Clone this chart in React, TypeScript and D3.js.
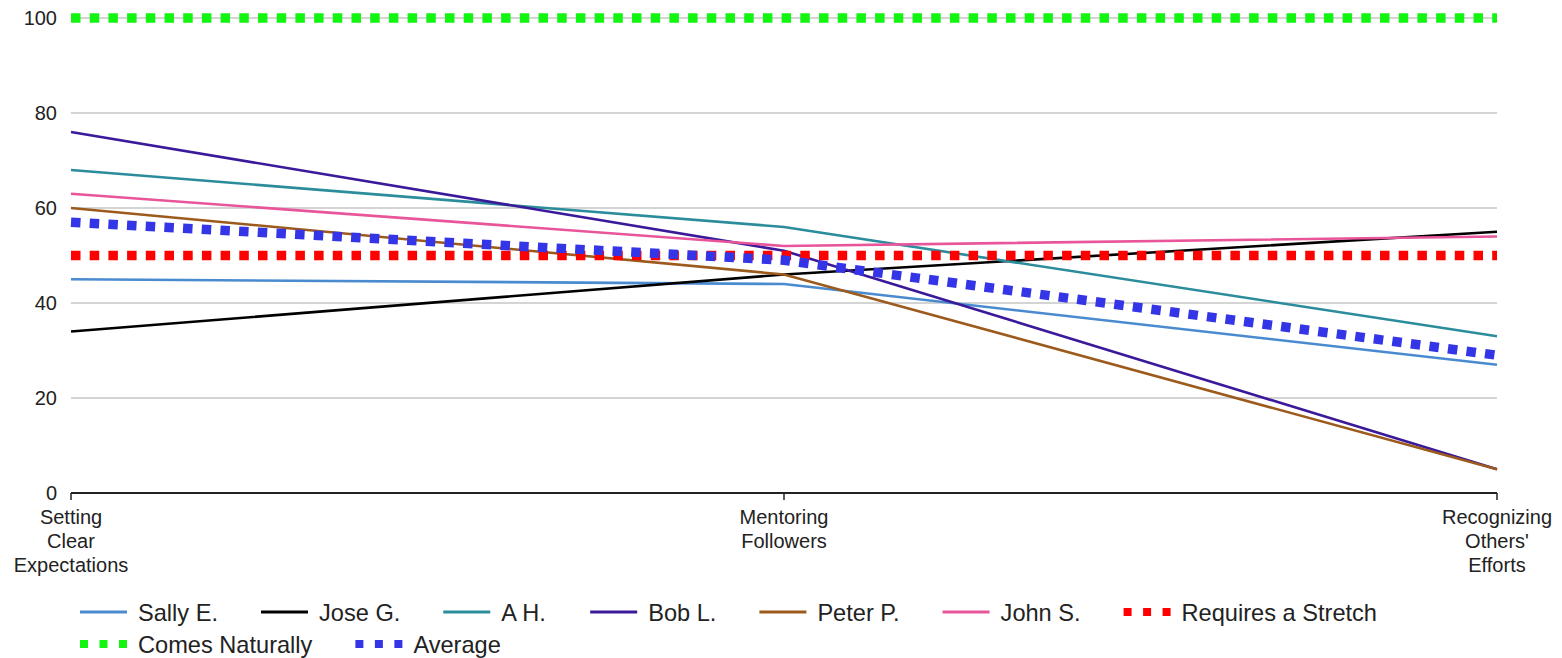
import React from "react";
import * as d3 from "d3";

const categories: string[][] = [
  ["Setting", "Clear", "Expectations"],
  ["Mentoring", "Followers"],
  ["Recognizing", "Others'", "Efforts"],
];
const categoryKeys = ["Setting Clear Expectations", "Mentoring Followers", "Recognizing Others' Efforts"];

const sallyE = [45, 44, 27];
const joseG = [34, 46, 55];
const aH = [68, 56, 33];
const bobL = [76, 51, 5];
const peterP = [60, 46, 5];
const johnS = [63, 52, 54];
const requiresStretch = [50, 50, 50];
const comesNaturally = [100, 100, 100];
const average = [57, 49, 29];

const yTicks = [0, 20, 40, 60, 80, 100];

type Series = { name: string; values: number[]; color: string; dotted: boolean };
const series: Series[] = [
  { name: "Sally E.", values: sallyE, color: "#4a8bd0", dotted: false },
  { name: "Jose G.", values: joseG, color: "#000000", dotted: false },
  { name: "A H.", values: aH, color: "#2b8c9b", dotted: false },
  { name: "Bob L.", values: bobL, color: "#3a1a9a", dotted: false },
  { name: "Peter P.", values: peterP, color: "#9c5a1c", dotted: false },
  { name: "John S.", values: johnS, color: "#e9559a", dotted: false },
  { name: "Requires a Stretch", values: requiresStretch, color: "#ff0000", dotted: true },
  { name: "Comes Naturally", values: comesNaturally, color: "#11f511", dotted: true },
  { name: "Average", values: average, color: "#3535e8", dotted: true },
];

const FONT = "'Liberation Sans', Arial, sans-serif";

function measure(text: string, size: number): number {
  const c = document.createElement("canvas").getContext("2d");
  if (!c) return text.length * size * 0.5;
  c.font = `${size}px ${FONT}`;
  return c.measureText(text).width;
}

export default function App() {
  const W = 1562;
  const H = 658;
  const left = 71;
  const right = 1497;
  const top = 18;
  const bottom = 493;

  const x = d3.scalePoint<string>().domain(categoryKeys).range([left, right]);
  const y = d3.scaleLinear().domain([0, 100]).range([bottom, top]);

  const line = d3
    .line<number>()
    .x((_, i) => x(categoryKeys[i]) as number)
    .y((d) => y(d));

  // legend layout
  const legendSize = 23.6;
  const rows: { s: Series; x: number; row: number }[] = [];
  let lx = 80;
  let row = 0;
  const maxX = 1500;
  for (const s of series) {
    const w = 47 + 11 + measure(s.name, legendSize);
    if (lx + w > maxX) {
      row += 1;
      lx = 80;
    }
    rows.push({ s, x: lx, row });
    lx += w + 43;
  }

  return (
    <svg
      width={W}
      height={H}
      style={{ position: "absolute", left: 0, top: 0, background: "#fff" }}
      fontFamily={FONT}
    >
      {/* gridlines */}
      {yTicks
        .filter((t) => t > 0)
        .map((t) => (
          <line key={t} x1={left} x2={right} y1={y(t)} y2={y(t)} stroke="#c6c6c6" strokeWidth={1.3} />
        ))}
      {/* y labels */}
      {yTicks.map((t) => (
        <text key={t} x={57} y={y(t)} dy="0.36em" textAnchor="end" fontSize={20} fill="#222">
          {t}
        </text>
      ))}
      {/* series */}
      {series.map((s) => (
        <path
          key={s.name}
          d={line(s.values) as string}
          fill="none"
          stroke={s.color}
          strokeWidth={s.dotted ? 9.5 : 2.6}
          strokeDasharray={s.dotted ? "9.5,9.2" : undefined}
        />
      ))}
      {/* x axis */}
      <line x1={left} x2={right} y1={bottom} y2={bottom} stroke="#222" strokeWidth={2} />
      {categoryKeys.map((k, i) => (
        <g key={k} transform={`translate(${x(k)},${bottom})`}>
          <line y1={0} y2={7} stroke="#222" strokeWidth={1.5} />
          {categories[i].map((ln, j) => (
            <text key={j} y={31 + j * 24} textAnchor="middle" fontSize={20} fill="#222">
              {ln}
            </text>
          ))}
        </g>
      ))}
      {/* legend */}
      {rows.map(({ s, x: ix, row: r }) => {
        const cy = 612 + r * 32;
        return (
          <g key={s.name}>
            <line
              x1={ix}
              x2={ix + 47}
              y1={cy}
              y2={cy}
              stroke={s.color}
              strokeWidth={s.dotted ? 8 : 3.2}
              strokeDasharray={s.dotted ? "8,11.5" : undefined}
            />
            <text x={ix + 58} y={cy + 9} fontSize={legendSize} fill="#222">
              {s.name}
            </text>
          </g>
        );
      })}
    </svg>
  );
}
